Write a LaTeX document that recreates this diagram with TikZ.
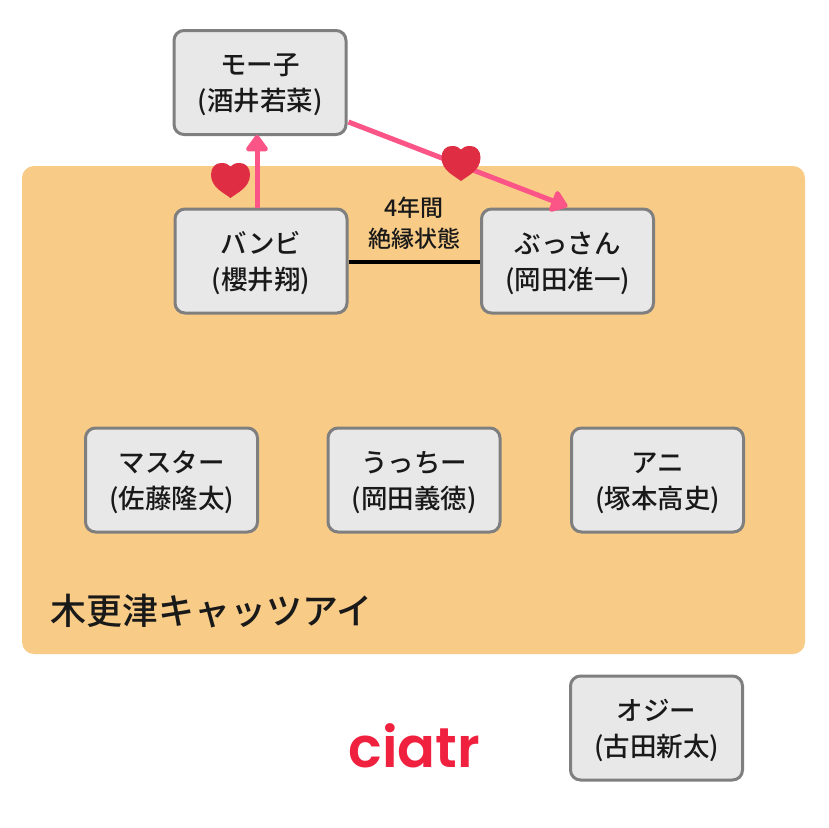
\documentclass[tikz,border=0pt]{standalone}
\usepackage{fontspec}
\setmainfont{Noto Sans CJK JP Medium}
\newfontfamily\logofont{Poppins SemiBold}
\usetikzlibrary{calc,arrows.meta}
\definecolor{boxfill}{HTML}{E8E8E9}
\definecolor{boxline}{HTML}{7F7F7F}
\definecolor{zone}{HTML}{F8CB87}
\definecolor{linkpink}{HTML}{FB5487}
\definecolor{heartred}{HTML}{DF2E44}
\definecolor{logored}{HTML}{F0213F}
\tikzset{
  x=1pt,y=1pt,
  person/.style={draw=boxline,line width=3pt,fill=boxfill,rounded corners=10pt,minimum width=172pt,minimum height=104pt,inner sep=0pt,align=center,font=\fontsize{26.5}{36}\selectfont,text=black!90,text height=62pt},
  loveline/.style={draw=linkpink,line width=5pt,-{Triangle[length=18pt,width=25pt,round]}},
  heart/.pic={\fill[heartred] (0,-17.5) .. controls (-7,-12) and (-19.5,-7) .. (-19.5,6) .. controls (-19.5,13) and (-15,17.5) .. (-9.5,17.5) .. controls (-5,17.5) and (-2,16.5) .. (0,14) .. controls (2,16.5) and (5,17.5) .. (9.5,17.5) .. controls (15,17.5) and (19.5,13) .. (19.5,6) .. controls (19.5,-7) and (7,-12) .. (0,-17.5) -- cycle;}
}
\begin{document}
\begin{tikzpicture}
\useasboundingbox (0,0) rectangle (828,-828);
\fill[white] (0,0) rectangle (828,-828);
\fill[zone,rounded corners=12pt] (22,-166) rectangle (805,-654);
\node[person] (moko) at (260,-82.5) {モー子\\(酒井若菜)};
\node[person] (bambi) at (261,-261) {バンビ\\(櫻井翔)};
\node[person] (bussan) at (567.5,-261) {ぶっさん\\(岡田准一)};
\node[person] (master) at (171.5,-480) {マスター\\(佐藤隆太)};
\node[person] (ucchi) at (414,-480) {うっちー\\(岡田義徳)};
\node[person] (ani) at (657.5,-480) {アニ\\(塚本高史)};
\node[person] (oji) at (656.5,-728) {オジー\\(古田新太)};
\draw[line width=4.5pt,black] ($(bambi.east)+(0,-1)$) -- ($(bussan.west)+(0,-1)$);
\draw[loveline] ($(bambi.north)+(-4,0)$) -- ($(moko.south)+(-3,1)$);
\draw[loveline] ($(moko.east)+(1,-39.5)$) -- ($(bussan.north)+(0,1)$);
\pic at (230.5,-180.5) {heart};
\pic at (461,-163.5) {heart};
\node[font=\fontsize{23}{31}\selectfont,align=center,text=black!90] (gap) at (414,-223) {4年間\\絶縁状態};
\node[anchor=west,inner sep=0pt,font=\fontsize{36}{36}\selectfont,text=black!90] (team) at (50,-611) {木更津キャッツアイ};
\node[font=\logofont\fontsize{56}{56}\selectfont,text=logored,inner sep=0pt] (logo) at (414.5,-746) {ciatr};
\end{tikzpicture}
\end{document}
